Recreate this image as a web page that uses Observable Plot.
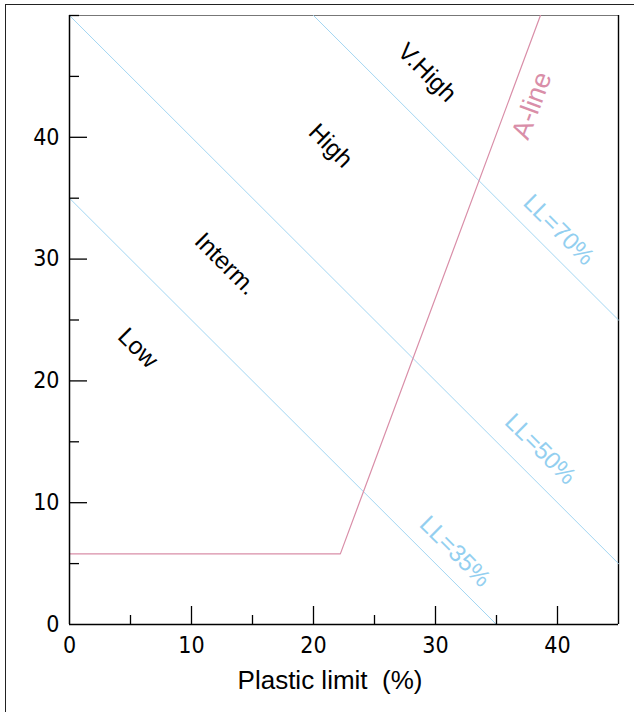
<!DOCTYPE html>
<html>
<head>
<meta charset="utf-8">
<script src="https://cdn.jsdelivr.net/npm/d3@7"></script>
<script src="https://cdn.jsdelivr.net/npm/@observablehq/plot@0.6"></script>
<style>
  html, body { margin: 0; padding: 0; background: #fff; overflow: hidden; }
  #wrap { position: relative; width: 634px; height: 712px; overflow: hidden; }
  #border { position: absolute; left: 5px; top: 4px; width: 700px; height: 800px;
            border: 1.6px solid #222; box-sizing: border-box; }
  #chart { position: absolute; left: 0; top: 0; }
</style>
</head>
<body>
<div id="wrap"><div id="border"></div><div id="chart"></div></div>
<script>
// ---- data ----
const xDomain = [0, 45];
const yDomain = [0, 50];
const xTickLabels = [0, 10, 20, 30, 40];
const yTickLabels = [0, 10, 20, 30, 40];
const xMajorTicks = [10, 20, 30, 40];
const xMinorTicks = [5, 15, 25, 35];
const yMajorTicks = [10, 20, 30, 40];
const yMinorTicks = [5, 15, 25, 35, 45, 50];

// liquid limit lines (plastic limit, plasticity index)
const ll35 = [[0, 35], [35, 0]];
const ll50 = [[0, 50], [45, 5]];
const ll70 = [[20, 50], [45, 25]];
// A-line with horizontal section
const aLine = [[0, 5.8], [22.2, 5.8], [38.6, 50]];

// zone labels
const zoneText = ["V.High", "High", "Interm.", "Low"];
const zoneX = [29.3, 21.4, 12.8, 5.6];
const zoneY = [45.3, 39.3, 29.6, 22.7];

const llText = ["LL=70%", "LL=50%", "LL=35%"];
const llX = [40.1, 38.6, 31.6];
const llY = [32.4, 14.4, 6.0];

const aText = ["A-line"];
const aX = [37.9];
const aY = [42.6];

const xTitle = "Plastic limit\u00a0 (%)";

// ---- chart ----
const blue = "#a3d6f2";
const blueText = "#93cff0";
const pink = "#d98ea8";
const labelFont = "Liberation Sans, Arial, Helvetica, sans-serif";
const tickFont = "'Liberation Sans Narrow', 'Arial Narrow', 'DejaVu Sans Condensed', sans-serif";

const W = 634, H = 712;
const mL = 69, mR = 16, mT = 15, mB = 88;
const innerW = W - mL - mR, innerH = H - mT - mB;

const toRows = (arr) => arr.map(([x, y]) => ({x, y}));
const zones = zoneText.map((t, i) => ({t, x: zoneX[i], y: zoneY[i]}));
const lls = llText.map((t, i) => ({t, x: llX[i], y: llY[i]}));
const als = aText.map((t, i) => ({t, x: aX[i], y: aY[i]}));

const plot = Plot.plot({
  width: W, height: H,
  marginLeft: mL, marginRight: mR, marginTop: mT, marginBottom: mB,
  x: {domain: xDomain},
  y: {domain: yDomain},
  style: {fontFamily: tickFont, fontSize: "23px", background: "transparent", overflow: "visible"},
  marks: [
    // frame top & right
    Plot.ruleY([yDomain[1]], {stroke: "#777", strokeWidth: 1.2}),
    Plot.ruleX([xDomain[1]], {stroke: "#000", strokeWidth: 1.4}),
    // lines
    Plot.line(toRows(ll35), {x: "x", y: "y", stroke: blue, strokeWidth: 1}),
    Plot.line(toRows(ll50), {x: "x", y: "y", stroke: blue, strokeWidth: 1}),
    Plot.line(toRows(ll70), {x: "x", y: "y", stroke: blue, strokeWidth: 1}),
    Plot.line(toRows(aLine), {x: "x", y: "y", stroke: pink, strokeWidth: 1.2}),
    // axes lines
    Plot.ruleX([xDomain[0]], {stroke: "#000", strokeWidth: 1.5}),
    Plot.ruleY([yDomain[0]], {stroke: "#000", strokeWidth: 1.5}),
    // ticks (inward)
    Plot.ruleX(xMajorTicks, {stroke: "#000", strokeWidth: 1.3, insetTop: innerH - 18}),
    Plot.ruleX(xMinorTicks, {stroke: "#000", strokeWidth: 1.3, insetTop: innerH - 9}),
    Plot.ruleY(yMajorTicks, {stroke: "#000", strokeWidth: 1.3, insetRight: innerW - 18}),
    Plot.ruleY(yMinorTicks, {stroke: "#000", strokeWidth: 1.3, insetRight: innerW - 10}),
    // tick labels
    Plot.axisX({ticks: xTickLabels, tickSize: 0, tickPadding: 12, label: null, fill: "#000"}),
    Plot.axisY({ticks: yTickLabels, tickSize: 0, tickPadding: 10, label: null, fill: "#000"}),
    // labels
    Plot.text(zones, {x: "x", y: "y", text: "t", rotate: 45, fontSize: 24.5, fontFamily: labelFont, fill: "#000"}),
    Plot.text(lls, {x: "x", y: "y", text: "t", rotate: 45, fontSize: 24, fontFamily: labelFont, fill: blueText}),
    Plot.text(als, {x: "x", y: "y", text: "t", rotate: -69.6, fontSize: 27, fontFamily: labelFont, fill: pink}),
    Plot.text([xTitle], {frameAnchor: "bottom", text: d => d, dy: 64, dx: -14, fontSize: 26, fontFamily: labelFont, fill: "#000"})
  ]
});
document.getElementById("chart").appendChild(plot);
</script>
</body>
</html>
